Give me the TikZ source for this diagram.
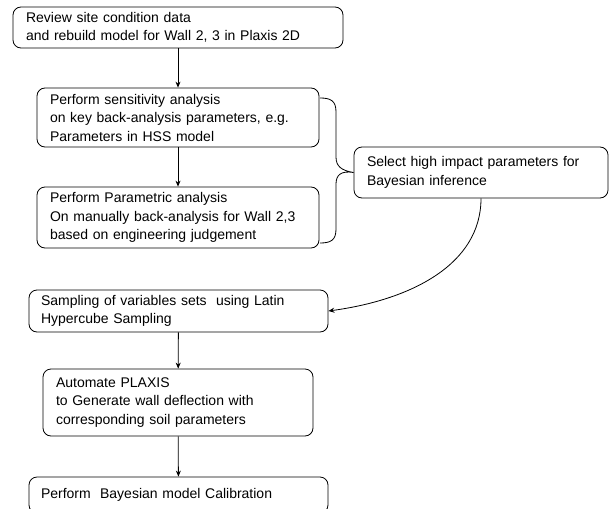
\documentclass[tikz,border=0pt]{standalone}
\usepackage{fontspec}
\setmainfont{Liberation Sans}
\usetikzlibrary{arrows.meta}
\begin{document}
\begin{tikzpicture}[x=1pt,y=-1pt,
  flowbox/.style={draw, line width=0.8pt, rounded corners=8pt, inner xsep=13pt, inner ysep=0pt,
    align=left, font=\fontsize{14}{18.5}\selectfont, anchor=center},
  flow/.style={line width=0.8pt, -{Stealth[length=6pt,width=5pt]}}]
\useasboundingbox (0,0) rectangle (609,508);
\clip (0,0) rectangle (609,508);
% process steps
\node[flowbox, minimum width=330pt, minimum height=41pt, text width=304pt] (review) at (178,27.5)
  {Review site condition data\\and rebuild model for Wall 2, 3 in Plaxis 2D};
\node[flowbox, minimum width=282pt, minimum height=59pt, text width=256pt] (sens) at (178,117.5)
  {Perform sensitivity analysis\\on key back-analysis parameters, e.g.\\Parameters in HSS model};
\node[flowbox, minimum width=282pt, minimum height=61pt, text width=256pt] (param) at (178,217.5)
  {Perform Parametric analysis\\On manually back-analysis for Wall 2,3\\based on engineering judgement};
\node[flowbox, minimum width=254pt, minimum height=51pt, text width=228pt] (select) at (481,172.5)
  {Select high impact parameters for\\Bayesian inference};
\node[flowbox, minimum width=299pt, minimum height=42pt, text width=275pt, inner xsep=12pt] (sample) at (178.5,311)
  {Sampling of variables sets\ \ using Latin\\Hypercube Sampling};
\node[flowbox, minimum width=270pt, minimum height=67pt, text width=244pt] (automate) at (178,402.5)
  {Automate PLAXIS\\to Generate wall deflection with\\corresponding soil parameters};
\node[flowbox, minimum width=299pt, minimum height=36pt, text width=275pt, inner xsep=12pt] (calib) at (178.5,495)
  {Perform\ \ Bayesian model Calibration};
% vertical flow
\draw[flow] (review) -- (sens);
\draw[flow] (sens) -- (param);
\draw[flow] (sample) -- (automate);
\draw[flow] (automate) -- (calib);
% brace grouping the two analyses
\coordinate (braceTop) at (320,98);
\coordinate (braceBot) at (320,243);
\draw[line width=0.8pt] (braceTop) .. controls (331,98) and (336,101) .. (336,112)
  -- (336,157) .. controls (336,166) and (341,170.5) .. (select.west)
  .. controls (341,170.5) and (336,175) .. (336,184)
  -- (336,229) .. controls (336,240) and (331,243) .. (braceBot);
% selected parameters feed the sampling
\draw[flow] (select.south) .. controls (481,265) and (410,300) .. (sample.east);
\end{tikzpicture}
\end{document}
